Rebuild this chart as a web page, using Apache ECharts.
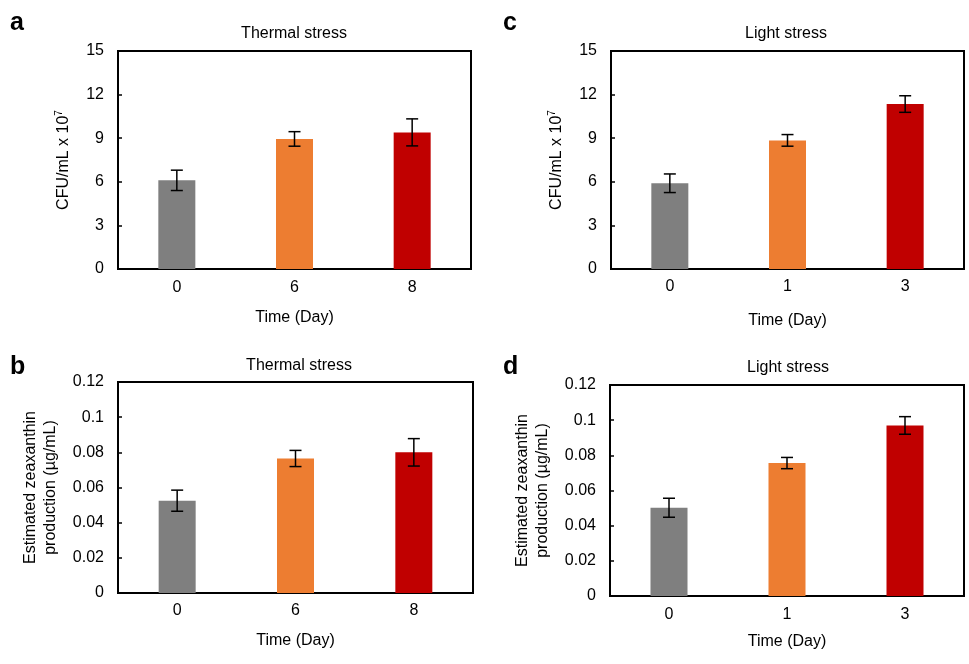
<!DOCTYPE html>
<html>
<head>
<meta charset="utf-8">
<script src="https://cdn.jsdelivr.net/npm/echarts@6/dist/echarts.min.js"></script>
<style>
  html, body { margin: 0; padding: 0; background: #ffffff; }
  #main { width: 969px; height: 664px; }
</style>
</head>
<body>
<div id="main"></div>
<script>
var thermalDays = ["0", "6", "8"];
var lightDays = ["0", "1", "3"];

var thermalCfu = [6.1, 8.95, 9.4];
var thermalCfuErr = [0.7, 0.5, 0.93];
var lightCfu = [5.9, 8.85, 11.35];
var lightCfuErr = [0.64, 0.4, 0.57];

var thermalZea = [0.0525, 0.0765, 0.08];
var thermalZeaErr = [0.006, 0.0046, 0.0078];
var lightZea = [0.0502, 0.0756, 0.097];
var lightZeaErr = [0.0054, 0.0032, 0.005];

var barColors = ["#7f7f7f", "#ed7d31", "#c00000"];

var FONT = "'Liberation Sans', Arial, sans-serif";

var mychart = echarts.init(document.getElementById("main"));

function bars(values) {
  return values.map(function (v, i) {
    return { value: v, itemStyle: { color: barColors[i] } };
  });
}

function errs(values, err) {
  return values.map(function (v, i) {
    return [i, v - err[i], v + err[i]];
  });
}

function renderErr(params, api) {
  var lo = api.coord([api.value(0), api.value(1)]);
  var hi = api.coord([api.value(0), api.value(2)]);
  var half = 6;
  var style = { stroke: "#000", lineWidth: 1.5 };
  return {
    type: "group",
    children: [
      { type: "line", shape: { x1: hi[0], y1: hi[1], x2: lo[0], y2: lo[1] }, style: style },
      { type: "line", shape: { x1: hi[0] - half, y1: hi[1], x2: hi[0] + half, y2: hi[1] }, style: style },
      { type: "line", shape: { x1: lo[0] - half, y1: lo[1], x2: lo[0] + half, y2: lo[1] }, style: style }
    ]
  };
}

var grids = [
  { left: 118, top: 51, width: 353, height: 218 },
  { left: 118, top: 382, width: 355, height: 211 },
  { left: 611, top: 51, width: 353, height: 218 },
  { left: 610, top: 385, width: 354, height: 211 }
];

var xGaps = [41, 40, 44, 38];
var xMargins = [11, 10, 10, 11];
var dayLists = [thermalDays, thermalDays, lightDays, lightDays];

var cfuName = "CFU/mL x 10{sup|7}";
var zeaName = "Estimated zeaxanthin\nproduction (µg/mL)";

var yNames = [cfuName, zeaName, cfuName, zeaName];
var yGaps = [44, 57, 44, 57];

var option = {
  animation: false,
  textStyle: { fontFamily: FONT, color: "#000" },
  grid: grids.map(function (g) {
    return Object.assign({ show: true, borderColor: "#000", borderWidth: 2, containLabel: false }, g);
  }),
  xAxis: grids.map(function (g, i) {
    return {
      gridIndex: i,
      type: "category",
      data: dayLists[i],
      name: "Time (Day)",
      nameLocation: "middle",
      nameGap: xGaps[i],
      nameTextStyle: { fontFamily: FONT, fontSize: 16, color: "#000" },
      axisLine: { lineStyle: { color: "#000", width: 2 } },
      axisTick: { show: false },
      axisLabel: { fontFamily: FONT, fontSize: 16, color: "#000", margin: xMargins[i] },
      splitLine: { show: false }
    };
  }),
  yAxis: grids.map(function (g, i) {
    var isCfu = i % 2 === 0;
    return {
      gridIndex: i,
      type: "value",
      min: 0,
      max: isCfu ? 15 : 0.12,
      interval: isCfu ? 3 : 0.02,
      name: yNames[i],
      nameLocation: "middle",
      nameGap: yGaps[i],
      nameTextStyle: {
        fontFamily: FONT,
        fontSize: 16,
        color: "#000",
        lineHeight: 20,
        rich: {
          sup: { fontFamily: FONT, fontSize: 10, color: "#000", verticalAlign: "top", padding: [0, 0, 8, 0] }
        }
      },
      axisLine: { show: true, lineStyle: { color: "#000", width: 2 } },
      axisTick: { show: true, inside: true, length: 4, lineStyle: { color: "#000", width: 1.5 } },
      axisLabel: { fontFamily: FONT, fontSize: 16, color: "#000", margin: 14 },
      splitLine: { show: false }
    };
  }),
  series: [
    { type: "bar", xAxisIndex: 0, yAxisIndex: 0, barWidth: 37, data: bars(thermalCfu) },
    { type: "custom", xAxisIndex: 0, yAxisIndex: 0, renderItem: renderErr, data: errs(thermalCfu, thermalCfuErr), z: 5 },
    { type: "bar", xAxisIndex: 1, yAxisIndex: 1, barWidth: 37, data: bars(thermalZea) },
    { type: "custom", xAxisIndex: 1, yAxisIndex: 1, renderItem: renderErr, data: errs(thermalZea, thermalZeaErr), z: 5 },
    { type: "bar", xAxisIndex: 2, yAxisIndex: 2, barWidth: 37, data: bars(lightCfu) },
    { type: "custom", xAxisIndex: 2, yAxisIndex: 2, renderItem: renderErr, data: errs(lightCfu, lightCfuErr), z: 5 },
    { type: "bar", xAxisIndex: 3, yAxisIndex: 3, barWidth: 37, data: bars(lightZea) },
    { type: "custom", xAxisIndex: 3, yAxisIndex: 3, renderItem: renderErr, data: errs(lightZea, lightZeaErr), z: 5 }
  ],
  graphic: [
    // panel letters
    { type: "text", left: 10, top: 11, style: { text: "a", font: "bold 25px " + FONT, fill: "#000" } },
    { type: "text", left: 10, top: 355, style: { text: "b", font: "bold 25px " + FONT, fill: "#000" } },
    { type: "text", left: 503, top: 11, style: { text: "c", font: "bold 25px " + FONT, fill: "#000" } },
    { type: "text", left: 503, top: 355, style: { text: "d", font: "bold 25px " + FONT, fill: "#000" } },
    // panel titles
    { type: "text", x: 294, y: 34, style: { text: "Thermal stress", font: "16px " + FONT, fill: "#000", align: "center", verticalAlign: "middle" } },
    { type: "text", x: 299, y: 366, style: { text: "Thermal stress", font: "16px " + FONT, fill: "#000", align: "center", verticalAlign: "middle" } },
    { type: "text", x: 786, y: 34, style: { text: "Light stress", font: "16px " + FONT, fill: "#000", align: "center", verticalAlign: "middle" } },
    { type: "text", x: 788, y: 368, style: { text: "Light stress", font: "16px " + FONT, fill: "#000", align: "center", verticalAlign: "middle" } }
  ]
};

mychart.setOption(option, true);
</script>
</body>
</html>
